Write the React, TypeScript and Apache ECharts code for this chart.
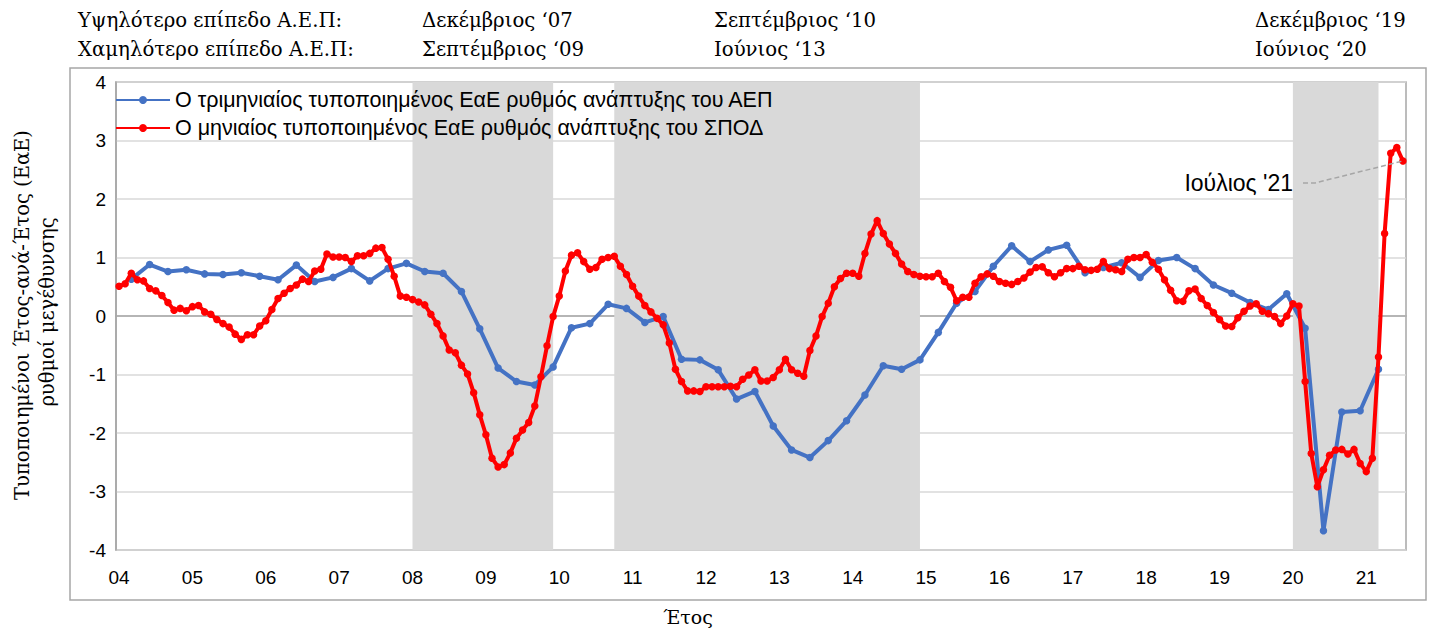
import React, { useEffect, useRef } from "react";
import * as echarts from "echarts";

// ---------- data ----------
const START_YEAR = 2004;
const MONTH_COUNT = 211; // Jan 2004 .. Jul 2021
const categories: string[] = Array.from({ length: MONTH_COUNT }, (_, i) =>
  `${START_YEAR + Math.floor(i / 12)}-${String((i % 12) + 1).padStart(2, "0")}`
);

// Quarterly standardized YoY GDP growth (quarter-end months, 2004Q1 .. 2021Q1)
const gdpQuarterly: number[] = [
  0.63, 0.88, 0.76, 0.79, 0.72, 0.71, 0.74, 0.68, 0.62, 0.87, 0.59, 0.66,
  0.81, 0.6, 0.81, 0.9, 0.76, 0.73, 0.42, -0.22, -0.89, -1.12, -1.18, -0.87,
  -0.2, -0.13, 0.2, 0.13, -0.11, -0.01, -0.74, -0.75, -0.92, -1.42, -1.29, -1.88,
  -2.29, -2.42, -2.13, -1.79, -1.35, -0.85, -0.91, -0.75, -0.28, 0.22, 0.42, 0.85,
  1.2, 0.93, 1.13, 1.21, 0.74, 0.83, 0.91, 0.66, 0.95, 1.0, 0.81, 0.53,
  0.39, 0.23, 0.11, 0.38, -0.21, -3.67, -1.64, -1.62, -0.91,
];

// Monthly standardized YoY growth of the composite indicator (Jan 2004 .. Jul 2021)
const spodMonthly: number[] = [
  0.51, 0.55, 0.73, 0.62, 0.6, 0.47, 0.43, 0.35, 0.23, 0.1, 0.13, 0.09,
  0.16, 0.18, 0.07, 0.03, -0.06, -0.13, -0.19, -0.31, -0.4, -0.32, -0.32, -0.17,
  -0.08, 0.11, 0.3, 0.39, 0.47, 0.53, 0.63, 0.59, 0.77, 0.8, 1.06, 1.01,
  1.01, 1.0, 0.93, 1.03, 1.03, 1.07, 1.16, 1.17, 0.97, 0.68, 0.34, 0.32,
  0.28, 0.24, 0.19, 0.03, -0.13, -0.34, -0.58, -0.63, -0.84, -0.99, -1.31, -1.69,
  -2.03, -2.43, -2.58, -2.54, -2.34, -2.09, -1.95, -1.82, -1.54, -1.04, -0.51, -0.01,
  0.34, 0.77, 1.04, 1.08, 0.93, 0.8, 0.83, 0.97, 1.0, 1.02, 0.85, 0.71,
  0.51, 0.34, 0.18, 0.07, -0.04, -0.15, -0.46, -0.91, -1.12, -1.28, -1.28, -1.29,
  -1.21, -1.21, -1.21, -1.21, -1.2, -1.21, -1.08, -1.01, -0.92, -1.11, -1.11, -1.05,
  -0.92, -0.74, -0.92, -0.98, -1.03, -0.59, -0.34, -0.01, 0.22, 0.5, 0.64, 0.73,
  0.73, 0.68, 1.07, 1.4, 1.63, 1.41, 1.23, 1.07, 0.89, 0.76, 0.71, 0.68,
  0.67, 0.67, 0.73, 0.59, 0.49, 0.26, 0.32, 0.32, 0.56, 0.67, 0.72, 0.68,
  0.59, 0.56, 0.54, 0.59, 0.65, 0.75, 0.83, 0.84, 0.74, 0.67, 0.74, 0.81,
  0.81, 0.85, 0.79, 0.78, 0.8, 0.93, 0.81, 0.79, 0.76, 0.97, 1.0, 1.0,
  1.05, 0.92, 0.8, 0.62, 0.44, 0.26, 0.25, 0.43, 0.46, 0.3, 0.18, 0.06,
  -0.06, -0.17, -0.18, -0.03, 0.08, 0.17, 0.21, 0.08, 0.04, -0.01, -0.13, 0.0,
  0.21, 0.17, -1.12, -2.35, -2.92, -2.63, -2.38, -2.29, -2.28, -2.36, -2.28, -2.52,
  -2.66, -2.43, -0.7, 1.41, 2.78, 2.88, 2.65,
];

// Shaded periods (month categories)
const shadeStart = ["2008-01", "2010-10", "2020-01"];
const shadeEnd = ["2009-12", "2014-12", "2021-03"];

const peakLabel = "Υψηλότερο επίπεδο Α.Ε.Π:";
const troughLabel = "Χαμηλότερο επίπεδο Α.Ε.Π:";
const peakDates = ["Δεκέμβριος ‘07", "Σεπτέμβριος ‘10", "Δεκέμβριος ‘19"];
const troughDates = ["Σεπτέμβριος ‘09", "Ιούνιος ‘13", "Ιούνιος ‘20"];

const gdpName = "Ο τριμηνιαίος τυποποιημένος ΕαΕ ρυθμός ανάπτυξης του ΑΕΠ";
const spodName = "Ο μηνιαίος τυποποιημένος ΕαΕ ρυθμός ανάπτυξης του ΣΠΟΔ";
const lastLabel = "Ιούλιος '21";

const SERIF = "'DejaVu Serif', 'Liberation Serif', serif";
const SANS = "'Liberation Sans', Arial, sans-serif";

export default function App() {
  const ref = useRef<HTMLDivElement>(null);

  useEffect(() => {
    if (!ref.current) return;
    const chart = echarts.init(ref.current, undefined, { renderer: "svg" });

    const gdpFull: (number | null)[] = categories.map(() => null);
    gdpQuarterly.forEach((v, k) => {
      gdpFull[2 + 3 * k] = v;
    });

    const colX = [422, 714, 1255];
    const topFont = `19.7px ${SERIF}`;
    const topTexts: any[] = [
      { type: "text", x: 78, y: 20, style: { text: peakLabel, font: topFont, fill: "#000", verticalAlign: "middle" } },
      { type: "text", x: 78, y: 49, style: { text: troughLabel, font: topFont, fill: "#000", verticalAlign: "middle" } },
    ];
    peakDates.forEach((d, i) =>
      topTexts.push({ type: "text", x: colX[i], y: 20, style: { text: d, font: topFont, fill: "#000", verticalAlign: "middle" } })
    );
    troughDates.forEach((d, i) =>
      topTexts.push({ type: "text", x: colX[i], y: 49, style: { text: d, font: topFont, fill: "#000", verticalAlign: "middle" } })
    );

    const option: any = {
      animation: false,
      backgroundColor: "#fff",
      grid: {
        left: 116,
        right: 26,
        top: 82,
        bottom: 78,
        show: true,
        borderColor: "#a6a6a6",
        borderWidth: 1.5,
        containLabel: false,
      },
      legend: {
        orient: "vertical",
        left: 110,
        top: 84,
        itemWidth: 54,
        itemHeight: 10,
        itemGap: 6,
        textStyle: { fontFamily: SANS, fontSize: 21.5, color: "#000" },
        data: [gdpName, spodName],
      },
      xAxis: {
        type: "category",
        data: categories,
        boundaryGap: true,
        axisLine: { show: true, lineStyle: { color: "#a6a6a6", width: 1.5 } },
        axisTick: { show: false },
        axisLabel: {
          interval: (idx: number) => idx % 12 === 0,
          formatter: (v: string) => v.slice(2, 4),
          fontFamily: SANS,
          fontSize: 19,
          color: "#000",
          margin: 18,
        },
        splitLine: { show: false },
      },
      yAxis: {
        type: "value",
        min: -4,
        max: 4,
        interval: 1,
        axisLine: { show: true, lineStyle: { color: "#a6a6a6", width: 1.5 } },
        axisTick: { show: false },
        axisLabel: { fontFamily: SANS, fontSize: 19, color: "#000", margin: 10 },
        splitLine: { show: true, lineStyle: { color: "#d9d9d9", width: 1.5 } },
      },
      series: [
        {
          name: gdpName,
          type: "line",
          data: gdpFull,
          connectNulls: true,
          showAllSymbol: true,
          symbol: "circle",
          symbolSize: 7.5,
          itemStyle: { color: "#4472C4" },
          lineStyle: { color: "#4472C4", width: 4 },
          z: 3,
          markArea: {
            silent: true,
            itemStyle: { color: "#d9d9d9" },
            data: shadeStart.map((s, i) => [{ xAxis: s }, { xAxis: shadeEnd[i] }]),
          },
        },
        {
          name: spodName,
          type: "line",
          data: spodMonthly,
          showAllSymbol: true,
          symbol: "circle",
          symbolSize: 7.5,
          itemStyle: { color: "#FF0000" },
          lineStyle: { color: "#FF0000", width: 4 },
          z: 4,
        },
      ],
      graphic: [
        ...topTexts,
        {
          type: "rect",
          shape: { x: 70, y: 68, width: 1356, height: 532 },
          style: { fill: "none", stroke: "#a6a6a6", lineWidth: 1.5 },
          silent: true,
        },
        {
          type: "text",
          x: 22,
          y: 315,
          rotation: Math.PI / 2,
          style: {
            text: "Τυποποιημένοι Έτος-ανά-Έτος (ΕαΕ)",
            font: `19.5px ${SERIF}`,
            fill: "#000",
            align: "center",
            verticalAlign: "middle",
          },
        },
        {
          type: "text",
          x: 47,
          y: 312,
          rotation: Math.PI / 2,
          style: {
            text: "ρυθμοί μεγέθυνσης",
            font: `19.5px ${SERIF}`,
            fill: "#000",
            align: "center",
            verticalAlign: "middle",
          },
        },
        {
          type: "text",
          x: 688,
          y: 617,
          style: {
            text: "Έτος",
            font: `19px ${SERIF}`,
            fill: "#000",
            align: "center",
            verticalAlign: "middle",
          },
        },
      ],
    };

    chart.setOption(option);

    // annotation for last monthly observation
    const lastIdx = spodMonthly.length - 1;
    const end = chart.convertToPixel({ gridIndex: 0 }, [lastIdx, spodMonthly[lastIdx]]) as number[];
    const labelY = end[1] + 22;
    chart.setOption({
      graphic: [
        ...option.graphic,
        {
          type: "text",
          x: 1293,
          y: labelY,
          style: {
            text: lastLabel,
            font: `23px ${SANS}`,
            fill: "#000",
            align: "right",
            verticalAlign: "middle",
          },
        },
        {
          type: "polyline",
          shape: { points: [[1303, labelY], [1315, labelY], [end[0], end[1]]] },
          style: { stroke: "#a6a6a6", lineWidth: 1.5, lineDash: [5, 3], fill: "none" },
          silent: true,
          z: 10,
        },
      ],
    });

    return () => chart.dispose();
  }, []);

  return (
    <div
      ref={ref}
      style={{ position: "absolute", left: 0, top: 0, width: 1432, height: 628 }}
    />
  );
}
